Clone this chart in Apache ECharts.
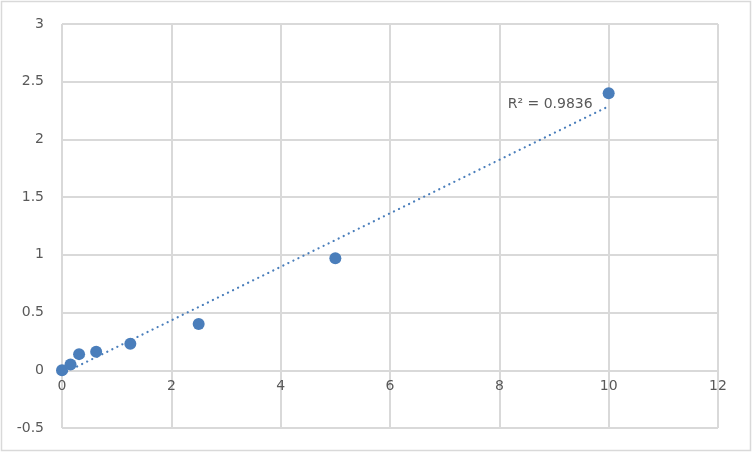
<!DOCTYPE html>
<html>
<head>
<meta charset="utf-8">
<script src="https://cdn.jsdelivr.net/npm/echarts@6/dist/echarts.min.js"></script>
<style>html,body{margin:0;padding:0;background:#fff}#c{width:752px;height:452px}</style>
</head>
<body>
<div id="c"></div>
<script>
var xValues = [0, 0.156, 0.3125, 0.625, 1.25, 2.5, 5, 10];
var yValues = [0, 0.05, 0.14, 0.16, 0.23, 0.40, 0.97, 2.40];
var xTicks = [0, 2, 4, 6, 8, 10, 12];
var yTicks = [-0.5, 0, 0.5, 1, 1.5, 2, 2.5, 3];

// linear regression for trendline
var n = xValues.length, mx = 0, my = 0;
for (var i = 0; i < n; i++) { mx += xValues[i]; my += yValues[i]; }
mx /= n; my /= n;
var sxx = 0, sxy = 0, syy = 0;
for (var i = 0; i < n; i++) {
  sxx += (xValues[i] - mx) * (xValues[i] - mx);
  sxy += (xValues[i] - mx) * (yValues[i] - my);
  syy += (yValues[i] - my) * (yValues[i] - my);
}
var slope = sxy / sxx, intercept = my - slope * mx;
var r2 = (sxy * sxy) / (sxx * syy);
var xMinD = Math.min.apply(null, xValues), xMaxD = Math.max.apply(null, xValues);
var trend = [[xMinD, intercept + slope * xMinD], [xMaxD, intercept + slope * xMaxD]];

var W = 752, H = 452, gl = 62, gr = 34, gt = 24, gb = 24;
var yMin = yTicks[0], yMax = yTicks[yTicks.length - 1];
var zeroOffset = (0 - yMin) / (yMax - yMin) * (H - gt - gb);

var chart = echarts.init(document.getElementById('c'));
var gridColor = '#d9d9d9', textColor = '#595959', blue = '#4a7ebb';
var font = 'DejaVu Sans';
chart.setOption({
  animation: false,
  grid: { left: gl, right: gr, top: gt, bottom: gb },
  xAxis: {
    type: 'value', min: xTicks[0], max: xTicks[xTicks.length - 1], interval: 2,
    position: 'bottom', offset: -zeroOffset,
    axisLine: { onZero: false, lineStyle: { color: gridColor, width: 2 } },
    axisTick: { show: false },
    splitLine: { show: true, lineStyle: { color: gridColor, width: 2 } },
    axisLabel: { color: textColor, fontSize: 14, margin: 9, fontFamily: font }
  },
  yAxis: {
    type: 'value', min: yMin, max: yMax, interval: 0.5,
    axisLine: { show: false },
    axisTick: { show: false },
    splitLine: { show: true, lineStyle: { color: gridColor, width: 2 } },
    axisLabel: { color: textColor, fontSize: 14, margin: 18, fontFamily: font }
  },
  series: [
    {
      type: 'line', data: trend, symbol: 'none', silent: true,
      lineStyle: { color: blue, width: 2.2, type: [0.1, 5.5], cap: 'round' },
      z: 2
    },
    {
      type: 'scatter',
      data: xValues.map(function (x, i) { return [x, yValues[i]]; }),
      symbolSize: 12,
      itemStyle: { color: blue, opacity: 1 },
      z: 3
    }
  ]
});
var endPx = chart.convertToPixel({ gridIndex: 0 }, trend[1]);
chart.setOption({
  graphic: [
    { type: 'rect', shape: { x: 1.5, y: 1.5, width: 749, height: 449 }, style: { fill: 'none', stroke: gridColor, lineWidth: 1.5 }, silent: true },
    { type: 'text', x: endPx[0] - 16, y: endPx[1] - 2, silent: true,
      style: { text: 'R² = ' + r2.toFixed(4), fill: textColor, fontSize: 14, fontFamily: font, align: 'right', verticalAlign: 'middle' } }
  ]
});
</script>
</body>
</html>
